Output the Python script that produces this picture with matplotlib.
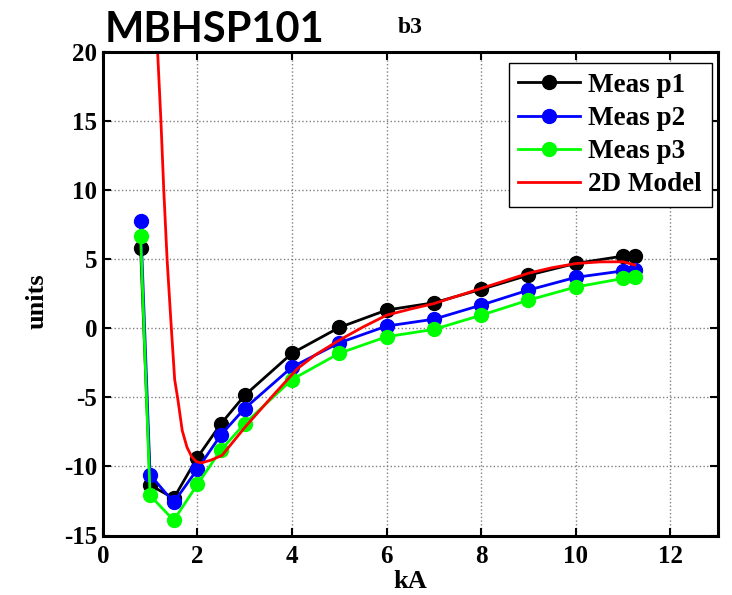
#!/usr/bin/env python3
"""Measured vs. 2D model curves for MBHSP101, harmonic b3."""

import matplotlib
matplotlib.use("Agg")
import matplotlib.pyplot as plt

SERIF = "Liberation Serif"
plt.rcParams["axes.unicode_minus"] = False

# measured currents (kA) and b3 values (units)
meas_kA = [0.8, 1.0, 1.5, 2.0, 2.5, 3.0, 4.0, 5.0, 6.0, 7.0, 8.0, 9.0, 10.0, 11.0, 11.25]
meas_p1 = [5.8, -11.35, -12.3, -9.35, -6.9, -4.85, -1.8, 0.07, 1.33, 1.86, 2.83, 3.86, 4.71, 5.24, 5.24]
meas_p2 = [7.8, -10.6, -12.6, -10.2, -7.7, -5.8, -2.8, -1.04, 0.17, 0.67, 1.69, 2.78, 3.7, 4.17, 4.2]
meas_p3 = [6.7, -12.1, -13.9, -11.3, -8.8, -6.9, -3.7, -1.8, -0.6, -0.07, 0.96, 2.05, 3.0, 3.62, 3.74]

# 2D model
model_kA = [1.10, 1.16, 1.23, 1.29, 1.36, 1.45, 1.52, 1.59, 1.68, 1.78, 1.88, 1.98,
            2.08, 2.28, 2.52, 3.02, 3.64, 4.12, 4.5, 5.0, 5.5, 6.0, 6.5, 7.0, 7.5,
            8.0, 8.5, 9.0, 9.5, 10.0, 10.5, 11.0, 11.25]
model_b3 = [26.0, 20.0, 15.0, 10.0, 5.0, 0.0, -3.7, -5.2, -7.4, -8.6, -9.3, -9.65,
            -9.74, -9.55, -9.2, -7.1, -4.7, -2.9, -1.9, -0.85, 0.1, 0.96, 1.4, 1.8, 2.35,
            2.9, 3.45, 4.0, 4.4, 4.7, 4.82, 4.83, 4.6]

fig = plt.figure(figsize=(7.32, 5.95), dpi=100)
ax = fig.add_axes([0.1404, 0.1, 0.840, 0.812])

marker_kw = dict(marker="o", markersize=10, linewidth=2)
ax.plot(meas_kA, meas_p1, color="black", label="Meas p1", **marker_kw)
ax.plot(meas_kA, meas_p2, color="#0000FF", label="Meas p2", **marker_kw)
ax.plot(meas_kA, meas_p3, color="#00FF00", label="Meas p3", **marker_kw)
ax.plot(model_kA, model_b3, color="#FF0000", linewidth=2, label="2D Model")

ax.set_xlim(0, 13)
ax.set_ylim(-15, 20)
ax.set_xticks(range(0, 13, 2))
ax.set_yticks(range(-15, 21, 5))
ax.grid(True, color="#808080", linestyle=":", linewidth=1.0)
ax.set_axisbelow(True)

ax.tick_params(direction="in", length=6, width=1.5, top=True, right=True,
               labelsize=18)
ax.tick_params(axis="x", pad=7)
ax.tick_params(axis="y", pad=4)
for lab in ax.get_xticklabels() + ax.get_yticklabels():
    lab.set_fontfamily(SERIF)
    lab.set_fontweight("bold")
for spine in ax.spines.values():
    spine.set_linewidth(2.2)

ax.set_xlabel("kA", fontsize=19, fontweight="bold", family=SERIF, va="top")
ax.xaxis.set_label_coords(0.5, -0.072)
ax.set_ylabel("units", fontsize=19, fontweight="bold", family=SERIF)
ax.yaxis.set_label_coords(-0.088, 0.485)
ax.set_title("b3", fontsize=17, fontweight="bold", family=SERIF, pad=14)

fig.text(105 / 732, 1 - 41.7 / 595, "MBHSP101", fontsize=30, fontweight="bold",
         family="Lato", va="baseline", ha="left")

leg = ax.legend(loc="upper right", bbox_to_anchor=(0.99, 0.977),
                prop={"family": SERIF, "weight": "bold", "size": 19.5},
                frameon=True, fancybox=False, edgecolor="black", framealpha=1,
                handlelength=2.3, labelspacing=0.3, borderpad=0.35,
                handletextpad=0.3, borderaxespad=0, markerscale=1.0)
leg.get_frame().set_linewidth(1.0)

fig.savefig("out.png", dpi=100, facecolor="white")
